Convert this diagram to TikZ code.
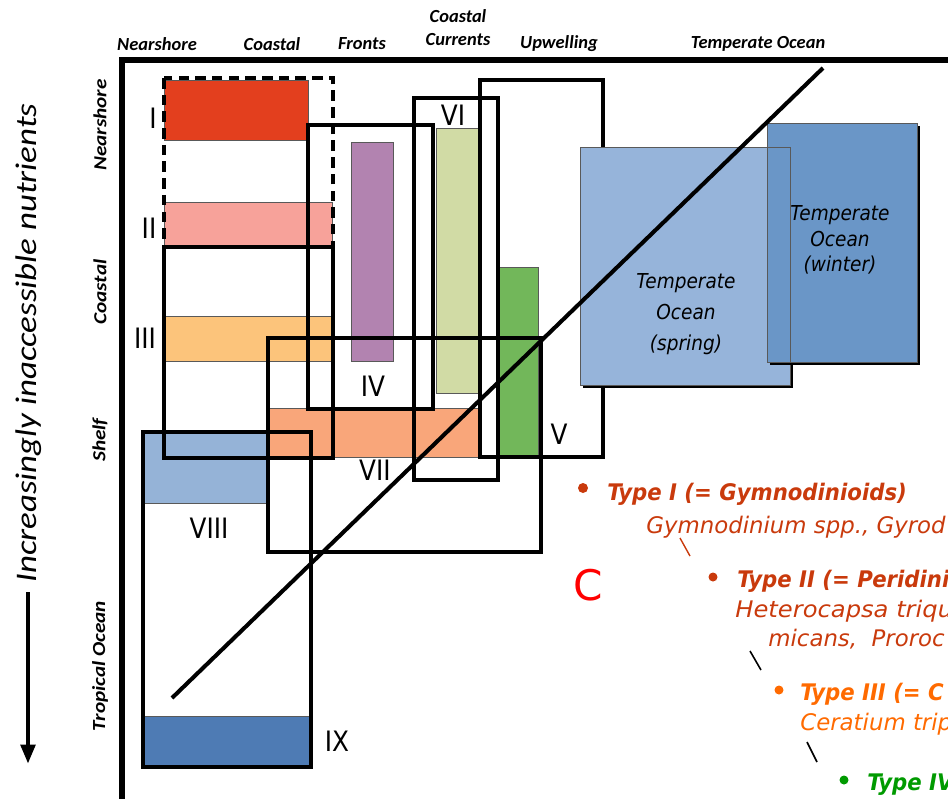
\documentclass[tikz,border=0pt]{standalone}
\usepackage{fontspec}
\setmainfont{DejaVu Sans}
\newfontfamily\calfont{Carlito}
\newfontfamily\calsidefont[FakeStretch=1.15]{Carlito}
\newfontfamily\calbigfont[FakeStretch=1.17]{Carlito}
\newfontfamily\numfont[FakeStretch=0.88]{DejaVu Sans}
\newfontfamily\typefont[FakeStretch=0.93]{DejaVu Sans}
\newfontfamily\oceanfont[FakeStretch=0.9]{DejaVu Sans}
\newfontfamily\widefont[FakeStretch=1.06]{DejaVu Sans}
\usetikzlibrary{arrows.meta}

\definecolor{fillI}{HTML}{E33F1E}
\definecolor{fillII}{HTML}{F7A29A}
\definecolor{fillIII}{HTML}{FCC47B}
\definecolor{fillIV}{HTML}{B283B0}
\definecolor{fillV}{HTML}{72B75A}
\definecolor{fillVI}{HTML}{D1DBA5}
\definecolor{fillVII}{HTML}{F9A67A}
\definecolor{fillVIII}{HTML}{95B3D7}
\definecolor{fillIX}{HTML}{4E7BB4}
\definecolor{spring}{HTML}{96B4DA}
\definecolor{winter}{HTML}{6A96C7}
\definecolor{typeone}{HTML}{C93A0C}
\definecolor{typethree}{HTML}{FF6A00}
\definecolor{typefour}{HTML}{009A00}

\begin{document}
\begin{tikzpicture}[x=0.02cm, y=-0.02cm,
  outline/.style={line width=2.6pt},
  band/.style={draw=black!65, line width=0.5pt},
  numeral/.style={font=\numfont\fontsize{16}{16}\selectfont, inner sep=0pt},
  zone/.style={font=\calfont\bfseries\itshape\fontsize{10.5}{13}\selectfont, inner sep=0pt, align=center},
  sidezone/.style={font=\calsidefont\bfseries\itshape\fontsize{10.5}{13}\selectfont, inner sep=0pt, rotate=90},
  oceantext/.style={font=\oceanfont\itshape\fontsize{11.7}{14.5}\selectfont, inner sep=0pt, align=center},
  typeline/.style={font=\typefont\bfseries\itshape\fontsize{13}{15}\selectfont, inner sep=0pt, anchor=base west},
  species/.style={font=\itshape\fontsize{13}{15}\selectfont, inner sep=0pt, anchor=base west, text=typeone}]
\useasboundingbox (0,0) rectangle (948,799);
\clip (0,0) rectangle (948,799);

% Axes and headings
\draw[line width=3pt] (122,799) -- (122,60) -- (948,60);
\node[zone] (hnear) at (157,44) {Nearshore};
\node[zone] (hcoast) at (272,44) {Coastal};
\node[zone] (hfront) at (362,44) {Fronts};
\node[zone] (hcurr) at (458,28) {Coastal\\Currents};
\node[zone] (hupw) at (559,44) {Upwelling};
\node[zone] (htemp) at (758,44) {Temperate Ocean};
\node[sidezone] (snear) at (100,125) {Nearshore};
\node[sidezone] (scoast) at (100,292) {Coastal};
\node[sidezone] (sshelf) at (100,440) {Shelf};
\node[sidezone] (strop) at (100,666) {Tropical Ocean};
\node[rotate=90, inner sep=0pt, font=\calbigfont\itshape\fontsize{17}{17}\selectfont] (nutrients) at (29,343) {Increasingly inaccessible nutrients};
\coordinate (arrtop) at (28,592);
\coordinate (arrbot) at (28,764);
\draw[line width=2.8pt, -{Triangle[width=8pt, length=11pt]}] (arrtop) -- (arrbot);

% Coloured habitat bands
\filldraw[band, fill=fillI] (164,80) rectangle (308,140);
\filldraw[band, fill=fillII] (164,202) rectangle (332,247);
\filldraw[band, fill=fillIII] (164,316) rectangle (332,361);
\filldraw[band, fill=fillVII] (268,408) rectangle (478,457);
\filldraw[band, fill=fillVIII] (143,432) rectangle (268,503);
\filldraw[band, fill=fillIX] (143,716) rectangle (311,767);
\filldraw[band, fill=fillIV] (351,142) rectangle (393,361);
\filldraw[band, fill=fillVI] (436,128) rectangle (478,393);
\filldraw[band, fill=fillV] (498,267) rectangle (538,457);

% Type boxes
\draw[outline, dash pattern=on 6pt off 3.5pt] (164,78) rectangle (333,247);
\draw[outline] (164,247) rectangle (333,458);
\draw[outline] (308,125) rectangle (433,409);
\draw[outline] (414,98) rectangle (498,480);
\draw[outline] (480,80) rectangle (603,457);
\draw[outline] (268,338) rectangle (541,552);
\draw[outline] (143,432) rectangle (311,767);

% Temperate ocean
\fill[black] (583,150) rectangle (793,388);
\filldraw[band, fill=spring] (580,147) rectangle (790,385);
\fill[black] (770,126) rectangle (920,365);
\filldraw[band, fill=winter] (767,123) rectangle (917,362);
\draw[band] (767,147) -- (790,147) -- (790,362);
\node[oceantext, font=\oceanfont\itshape\fontsize{11.7}{17.5}\selectfont] (springlbl) at (686,314) {Temperate\\Ocean\\(spring)};
\node[oceantext] (winterlbl) at (840,240) {Temperate\\Ocean\\(winter)};

% Diagonal
\coordinate (diagstart) at (172,698);
\coordinate (diagend) at (823,68);
\draw[line width=2.3pt] (diagstart) -- (diagend);

% Roman numerals
\node[numeral] (numI) at (153,118) {I};
\node[numeral] (numII) at (149,228) {II};
\node[numeral] (numIII) at (145,338) {III};
\node[numeral] (numIV) at (373,386) {IV};
\node[numeral] (numV) at (559,434) {V};
\node[numeral] (numVI) at (453,115) {VI};
\node[numeral] (numVII) at (375,470) {VII};
\node[numeral] (numVIII) at (209,528) {VIII};
\node[numeral] (numIX) at (337,741) {IX};

% Dinoflagellate types
\node[text=red, inner sep=0pt, font=\fontsize{24}{24}\selectfont] (panelC) at (588,585) {C};
\fill[typeone] (583,488) circle (5);
\node[typeline, text=typeone] (typeI) at (607,500) {Type I (= Gymnodinioids)};
\node[species] (sppI) at (646,533) {Gymnodinium spp., Gyrod};
\draw[typeone, line width=0.8pt] (680,538) -- (690,556);
\fill[typeone] (713,577) circle (4.5);
\node[typeline, text=typeone] (typeII) at (737,587) {Type II (= Peridinia};
\node[species, font=\widefont\itshape\fontsize{13}{15}\selectfont] (sppII) at (735,617) {Heterocapsa triqu};
\node[species] (sppIIb) at (768,646) {micans,\ \ Proroc};
\draw[line width=0.9pt] (750,651) -- (761,670);
\fill[typethree] (779,690) circle (4.5);
\node[typeline, text=typethree] (typeIII) at (800,700) {Type III (= C};
\node[species, text=typethree] (sppIII) at (800,730) {Ceratium trip};
\draw[line width=0.9pt] (807,742) -- (817,762);
\fill[typefour] (844,780) circle (4.5);
\node[typeline, text=typefour] (typeIV) at (867,790) {Type IV};
\end{tikzpicture}
\end{document}
